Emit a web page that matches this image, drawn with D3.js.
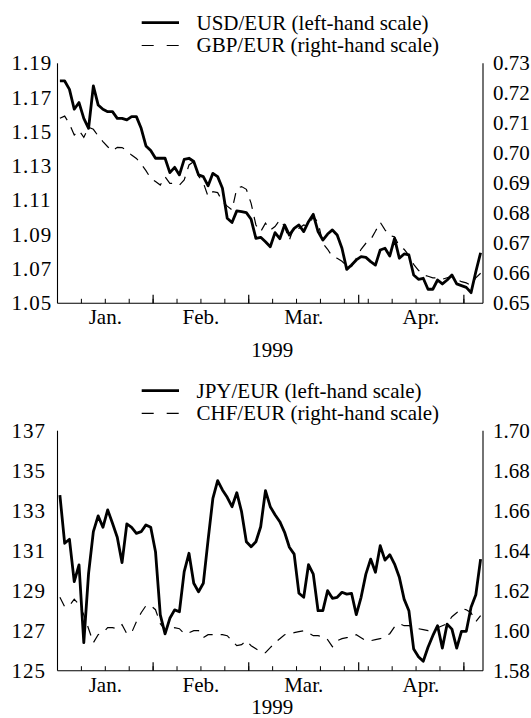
<!DOCTYPE html>
<html><head><meta charset="utf-8">
<script src="https://cdn.jsdelivr.net/npm/d3@7"></script>
<style>
body{margin:0;background:#fff}
svg{display:block}
text{font-family:"Liberation Serif","Times New Roman",serif;font-size:21px;fill:#000}
</style>
</head><body><svg id="c" width="531" height="718"></svg>
<script>
// Daily (business-day) series, 4 Jan 1999 – 6 May 1999
const usd = [1.1797,1.1797,1.1748,1.1632,1.1671,1.1579,1.1521,1.1768,1.1657,1.1632,
  1.1618,1.1618,1.1579,1.1579,1.1570,1.1589,1.1589,1.1521,1.1418,1.1391,
  1.1346,1.1346,1.1346,1.1262,1.1293,1.1249,1.1340,1.1346,1.1327,1.1249,
  1.1239,1.1185,1.1258,1.1239,1.1171,1.0996,1.0971,1.1039,1.1035,1.1029,
  1.0990,1.0879,1.0885,1.0859,1.0830,1.0912,1.0877,1.0957,1.0898,1.0937,
  1.0957,1.0918,1.0976,1.1019,1.0918,1.0869,1.0904,1.0928,1.0898,1.0821,
  1.0698,1.0723,1.0753,1.0772,1.0768,1.0743,1.0723,1.0811,1.0821,1.0776,
  1.0879,1.0763,1.0788,1.0782,1.0665,1.0640,1.0646,1.0582,1.0582,1.0636,
  1.0613,1.0636,1.0665,1.0613,1.0603,1.0593,1.0562,1.0684,1.0795];
const gbp = [0.7117,0.7124,0.7098,0.7061,0.7076,0.7053,0.7087,0.7080,0.7058,0.7039,
  0.7022,0.7008,0.7020,0.7019,0.7009,0.6994,0.6983,0.6964,0.6942,0.6917,
  0.6906,0.6894,0.6922,0.6900,0.6900,0.6894,0.6911,0.6961,0.6972,0.6924,
  0.6902,0.6856,0.6872,0.6869,0.6839,0.6824,0.6811,0.6883,0.6889,0.6880,
  0.6833,0.6761,0.6739,0.6767,0.6744,0.6756,0.6778,0.6756,0.6711,0.6756,
  0.6750,0.6761,0.6756,0.6789,0.6770,0.6700,0.6680,0.6655,0.6650,0.6640,
  0.6625,0.6622,0.6650,0.6680,0.6700,0.6712,0.6740,0.6770,0.6745,0.6725,
  0.6722,0.6690,0.6680,0.6660,0.6630,0.6610,0.6595,0.6590,0.6585,0.6585,
  0.6580,0.6585,0.6590,0.6580,0.6572,0.6568,0.6560,0.6585,0.6600];
const jpy = [133.78,131.37,131.57,129.45,130.29,126.40,129.87,131.95,132.74,132.17,
  133.04,132.37,131.67,130.40,132.34,132.17,131.87,131.95,132.29,132.17,
  130.95,127.79,126.84,127.62,128.04,127.95,129.95,130.87,129.37,128.95,
  129.37,131.54,133.62,134.50,134.04,133.67,133.20,133.90,132.95,131.45,
  131.20,131.45,132.20,134.00,133.20,132.80,132.45,131.92,131.17,130.83,
  128.87,128.67,130.30,129.83,128.00,128.00,129.00,128.62,128.67,128.92,
  128.83,128.87,127.80,128.67,129.83,130.58,129.92,131.25,130.53,130.80,
  130.33,129.67,128.58,128.00,126.08,125.70,125.47,126.17,126.75,127.25,
  126.13,127.33,127.08,126.13,126.97,126.97,128.17,128.80,130.58];
const chf = [1.6167,1.6120,1.6125,1.6158,1.6130,1.6080,1.6010,1.5940,1.5980,1.5990,
  1.6015,1.6015,1.6010,1.6030,1.5985,1.5990,1.6045,1.6090,1.6125,1.6125,
  1.6105,1.6035,1.6005,1.6000,1.6015,1.6010,1.5985,1.5990,1.6000,1.6000,
  1.5965,1.5980,1.5980,1.5980,1.5980,1.5975,1.5950,1.5925,1.5930,1.5950,
  1.5925,1.5910,1.5895,1.5890,1.5915,1.5940,1.5960,1.5980,1.5985,1.5990,
  1.5995,1.6000,1.5990,1.5975,1.5975,1.5970,1.5955,1.5920,1.5950,1.5960,
  1.5965,1.5970,1.5980,1.5965,1.5950,1.5950,1.5955,1.5960,1.5970,1.5985,
  1.6020,1.6035,1.6025,1.6025,1.6020,1.6010,1.6005,1.6000,1.6005,1.6015,
  1.6025,1.6035,1.6070,1.6090,1.6110,1.6105,1.6090,1.6045,1.6075];

const monthLabels = ["Jan.","Feb.","Mar.","Apr."];
const monthCenters = [9.5, 29.5, 51, 75.5];
const monthBounds = [19.5, 39.5, 62.5, 84.5];
const weekTicks = d3.range(4.5, 88, 5);
const yearLabel = "1999";
const usdTicks = [1.05,1.07,1.09,1.11,1.13,1.15,1.17,1.19];
const gbpTicks = [0.65,0.66,0.67,0.68,0.69,0.70,0.71,0.72,0.73];
const jpyTicks = [125,127,129,131,133,135,137];
const chfTicks = [1.58,1.60,1.62,1.64,1.66,1.68,1.70];
const legendTop = ["USD/EUR (left-hand scale)","GBP/EUR (right-hand scale)"];
const legendBottom = ["JPY/EUR (left-hand scale)","CHF/EUR (right-hand scale)"];

const svg = d3.select("#c");
const X0 = 57.5, X1 = 483;
const x = d3.scaleLinear().domain([-0.5, 88.5]).range([X0, X1]);
const FS = 21;

function panel(cfg){
  const g = svg.append("g");
  const yl = d3.scaleLinear().domain(cfg.ld).range([cfg.bottom, cfg.top]);
  const yr = d3.scaleLinear().domain(cfg.rd).range([cfg.bottom, cfg.top]);

  // legend
  cfg.legend.forEach((t,k)=>{
    const ly = cfg.legY[k];
    g.append("line").attr("x1",141.7).attr("x2",179).attr("y1",ly).attr("y2",ly)
      .attr("stroke","#000").attr("stroke-width",k===0?2.8:1.2)
      .attr("stroke-dasharray",k===0?null:"12,13");
    g.append("text").attr("x",196.5).attr("y",ly+FS*0.33).text(t);
  });

  // axes lines
  g.append("line").attr("x1",X0).attr("x2",X0).attr("y1",cfg.top).attr("y2",cfg.bottom)
    .attr("stroke","#000").attr("stroke-width",1.1);
  g.append("line").attr("x1",X1).attr("x2",X1).attr("y1",cfg.top).attr("y2",cfg.bottom)
    .attr("stroke","#000").attr("stroke-width",1.1);
  g.append("line").attr("x1",X0).attr("x2",X1).attr("y1",cfg.bottom).attr("y2",cfg.bottom)
    .attr("stroke","#000").attr("stroke-width",1.1);

  // minor + major ticks
  g.selectAll(".mt").data(weekTicks).enter().append("line")
    .attr("x1",d=>x(d)).attr("x2",d=>x(d)).attr("y1",cfg.bottom).attr("y2",cfg.bottom-4.5)
    .attr("stroke","#000").attr("stroke-width",1);
  g.selectAll(".Mt").data(monthBounds).enter().append("line")
    .attr("x1",d=>x(d)).attr("x2",d=>x(d)).attr("y1",cfg.bottom).attr("y2",cfg.bottom-8.5)
    .attr("stroke","#000").attr("stroke-width",1.2);

  // month labels
  g.selectAll(".ml").data(monthLabels).enter().append("text")
    .attr("x",(d,i)=>x(monthCenters[i])).attr("y",cfg.monthY+FS*0.33)
    .attr("text-anchor","middle").text(d=>d);
  g.append("text").attr("x",(X0+X1)/2+2).attr("y",cfg.yearY+FS*0.33)
    .attr("text-anchor","middle").text(yearLabel);

  // y labels
  g.selectAll(".yl").data(cfg.lt).enter().append("text")
    .attr("x",11.5).attr("y",d=>yl(d)+FS*0.33).attr("letter-spacing","1px")
    .text(d=>d3.format(cfg.lf)(d));
  g.selectAll(".yr").data(cfg.rt).enter().append("text")
    .attr("x",493).attr("y",d=>yr(d)+FS*0.33).text(d=>d3.format(cfg.rf)(d));

  // series
  const ll = d3.line().x((d,i)=>x(i)).y(d=>yl(d));
  const lr = d3.line().x((d,i)=>x(i)).y(d=>yr(d));
  g.append("path").datum(cfg.rs).attr("d",lr).attr("fill","none").attr("stroke","#000")
    .attr("stroke-width",1.2).attr("stroke-dasharray","10,8");
  g.append("path").datum(cfg.ls).attr("d",ll).attr("fill","none").attr("stroke","#000")
    .attr("stroke-width",2.8).attr("stroke-linejoin","round");
}

panel({top:63.3,bottom:303.3,legY:[22.7,45.5],monthY:317.5,yearY:350.5,
  ld:[1.05,1.19],rd:[0.65,0.73],lt:usdTicks,rt:gbpTicks,lf:".2f",rf:".2f",
  ls:usd,rs:gbp,legend:legendTop});
panel({top:430.7,bottom:670.7,legY:[390.7,413.3],monthY:685,yearY:707.5,
  ld:[125,137],rd:[1.58,1.70],lt:jpyTicks,rt:chfTicks,lf:"d",rf:".2f",
  ls:jpy,rs:chf,legend:legendBottom});
</script>
</body></html>
